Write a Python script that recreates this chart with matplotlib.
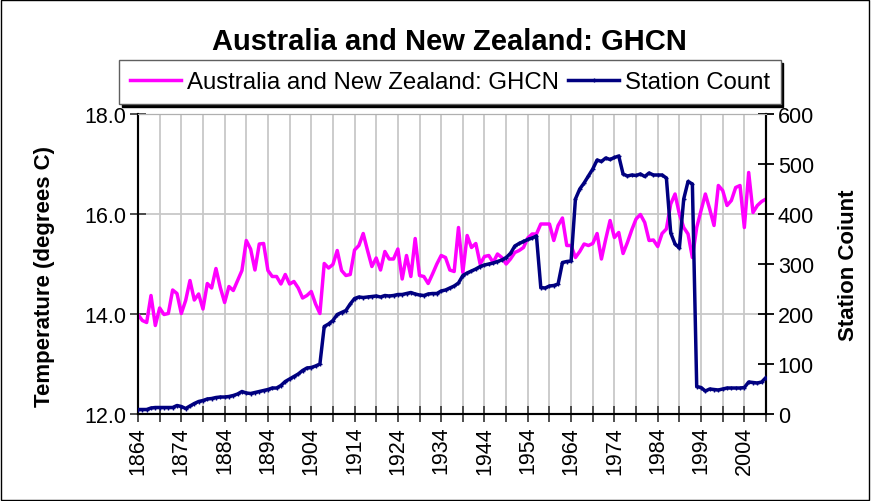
import numpy as np
import matplotlib
matplotlib.use('Agg')
from matplotlib import pyplot as plt
from matplotlib.patches import Rectangle

plt.rcParams['font.family'] = ['Liberation Sans', 'DejaVu Sans']

title = 'Australia and New Zealand: GHCN'
first_year = 1864
last_year = 2009

# mean temperature, degrees C, one value per year 1864..2009
temp = [13.99, 13.87, 13.83, 14.37, 13.77, 14.12, 13.99, 14.01, 14.48, 14.41,
        14.01, 14.27, 14.67, 14.28, 14.40, 14.10, 14.61, 14.52, 14.91, 14.53,
        14.23, 14.55, 14.47, 14.67, 14.87, 15.47, 15.30, 14.88, 15.40, 15.41,
        14.87, 14.75, 14.75, 14.60, 14.79, 14.60, 14.65, 14.52, 14.32, 14.37,
        14.45, 14.20, 14.01, 15.01, 14.92, 14.99, 15.27, 14.87, 14.77, 14.79,
        15.28, 15.37, 15.61, 15.27, 14.95, 15.12, 14.88, 15.25, 15.10, 15.10,
        15.30, 14.70, 15.17, 14.75, 15.51, 14.77, 14.75, 14.61, 14.80, 15.00,
        15.17, 15.13, 14.88, 14.85, 15.73, 14.83, 15.57, 15.33, 15.41, 15.00,
        15.15, 15.17, 15.03, 15.20, 15.13, 15.00, 15.10, 15.23, 15.27, 15.33,
        15.52, 15.60, 15.60, 15.80, 15.80, 15.80, 15.47, 15.77, 15.92, 15.37,
        15.37, 15.13, 15.25, 15.40, 15.37, 15.41, 15.61, 15.10, 15.50, 15.87,
        15.53, 15.63, 15.21, 15.43, 15.68, 15.90, 15.99, 15.83, 15.47, 15.48,
        15.35, 15.61, 15.70, 16.20, 16.40, 16.00, 15.73, 15.60, 15.13, 15.73,
        16.07, 16.40, 16.10, 15.77, 16.57, 16.47, 16.17, 16.27, 16.53, 16.57,
        15.73, 16.83, 16.03, 16.17, 16.25, 16.30]

# number of stations reporting, same years
stations = [9, 9, 9, 12, 13, 13, 13, 13, 13, 17,
            15, 11, 16, 21, 25, 27, 30, 31, 33, 34,
            34, 35, 37, 40, 45, 42, 41, 43, 45, 47,
            49, 52, 52, 57, 65, 70, 75, 80, 87, 92,
            93, 96, 100, 175, 180, 187, 199, 203, 207, 220,
            231, 234, 233, 234, 235, 236, 234, 237, 236, 237,
            239, 239, 241, 243, 240, 238, 237, 240, 241, 241,
            246, 248, 252, 256, 262, 277, 282, 286, 290, 295,
            298, 300, 302, 305, 308, 313, 321, 336, 341, 345,
            349, 352, 356, 253, 252, 256, 257, 260, 303, 305,
            306, 430, 450, 462, 476, 490, 508, 505, 512, 509,
            513, 516, 480, 476, 478, 477, 480, 475, 482, 478,
            478, 478, 472, 362, 340, 332, 430, 465, 460, 55,
            53, 46, 50, 49, 48, 50, 52, 52, 52, 52,
            53, 64, 63, 62, 64, 73]

years = np.arange(first_year, last_year + 1)

W, H = 875, 502
fig = plt.figure(figsize=(W / 100, H / 100), dpi=100)
ax = fig.add_axes([138 / W, 1 - 415 / H, (766 - 138) / W, 300 / H])
ax2 = ax.twinx()

l1, = ax.plot(years, temp, color='#FF00FF', lw=2.5, zorder=3)
l2, = ax2.plot(years, stations, color='#000080', lw=2.5, marker='+', ms=3, mew=1, zorder=3)

ax.set_xlim(first_year, last_year)
ax.set_ylim(12, 18)
ax2.set_ylim(0, 600)

xt = list(range(first_year, last_year + 1, 5))
ax.set_xticks(xt)
ax.set_xticklabels([str(y) if (y - first_year) % 10 == 0 else '' for y in xt],
                   rotation=90, fontsize=15.5)
ax.set_yticks([12, 14, 16, 18])
ax.set_yticklabels(['12.0', '14.0', '16.0', '18.0'], fontsize=15.5)
ax2.set_yticks(range(0, 601, 100))
ax2.set_yticklabels([str(v) for v in range(0, 601, 100)], fontsize=15.5)

ax.grid(True, color='#c8c8c8', lw=1.3)
ax.set_axisbelow(True)
ax.tick_params(axis='both', direction='inout', length=11, width=1.3, colors='#404040',
               labelcolor='black', pad=3)
ax2.tick_params(axis='y', direction='inout', length=11, width=1.3, colors='black',
                labelcolor='black', pad=3)

ax.spines['top'].set_color('#b0b0b0')
ax2.spines['top'].set_color('#b0b0b0')
ax.spines['left'].set_color('#404040')
ax.spines['bottom'].set_color('#303030')
for a in (ax, ax2):
    a.spines['left'].set_linewidth(1.5)
    a.spines['bottom'].set_linewidth(1.5)
    a.spines['right'].set_linewidth(1.5)
ax2.spines['right'].set_color('black')

fig.text(45 / W, 1 - 277 / H, 'Temperature (degrees C)', rotation=90, fontsize=16,
         fontweight='bold', ha='center', va='center')
fig.text(848 / W, 1 - 265 / H, 'Station Coiunt', rotation=90, fontsize=16,
         fontweight='bold', ha='center', va='center')
fig.text(449 / W, 1 - 42 / H, title, fontsize=21, fontweight='bold',
         ha='center', va='center')

leg = fig.legend([l1, l2], [title, 'Station Count'], loc='center',
                 bbox_to_anchor=(450 / W, 1 - 83 / H), ncol=2, fontsize=17.3,
                 frameon=True, fancybox=False, edgecolor='#606060',
                 shadow={'color': 'black', 'alpha': 1},
                 handlelength=2.1, handletextpad=0.25, columnspacing=0.4,
                 borderpad=0.45, borderaxespad=0)
leg.get_frame().set_linewidth(1)

fig.patches.append(Rectangle((1 / W, 1 / H), 868 / W, 500 / H, transform=fig.transFigure,
                             fill=False, edgecolor='black', lw=1))

fig.savefig('out.png', dpi=100)
